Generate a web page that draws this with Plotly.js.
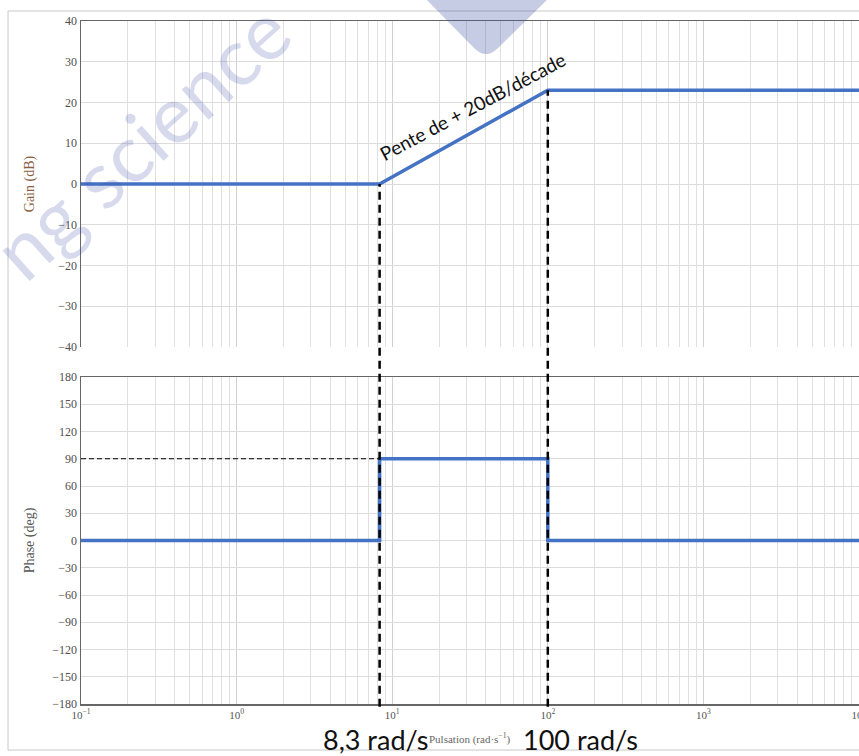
<!DOCTYPE html>
<html>
<head>
<meta charset="utf-8">
<script src="https://cdn.plot.ly/plotly-3.0.1.min.js"></script>
<style>html,body{margin:0;padding:0;background:#fff;}#chart{width:859px;height:756px;}</style>
</head>
<body>
<div id="chart"></div>
<script>
// ---- data ----
const gainOmega = [0.1, 8.3, 100, 10000];
const gainDb = [0, 0, 23, 23];
const phaseOmega = [0.1, 8.3, 8.3, 100, 100, 10000];
const phaseDeg = [0, 0, 90, 90, 0, 0];
const cornerFreqs = [8.3, 100];
const cornerGains = [0, 23];
const cornerLabels = ['8,3 rad/s', '100 rad/s'];
const phaseLevel = 90;
const xTickVals = [0.1, 1, 10, 100, 1000, 10000];
const xTickText = ['10<sup>−1</sup>', '10<sup>0</sup>', '10<sup>1</sup>', '10<sup>2</sup>', '10<sup>3</sup>', '10<sup>4</sup>'];
const gainTicks = [-40, -30, -20, -10, 0, 10, 20, 30, 40];
const phaseTicks = [-180, -150, -120, -90, -60, -30, 0, 30, 60, 90, 120, 150, 180];
const slopeText = 'Pente de + 20dB/décade';
const watermarkText = 'ng science';

// ---- layout helpers ----
const W = 859, H = 756;
const M = {l: 81, r: 0, t: 21, b: 52};
const PW = W - M.l - M.r, PH = H - M.t - M.b;
const px2x = p => (p - M.l) / PW;
const px2y = p => (H - M.b - p) / PH;
const topDomain = [px2y(347), 1];
const botDomain = [0, px2y(377)];
const gainRange = [-40, 40];
const gainToPaper = g => topDomain[0] + (g - gainRange[0]) / (gainRange[1] - gainRange[0]) * (topDomain[1] - topDomain[0]);

const minorVals = [];
for (let k = -1; k <= 3; k++) for (let m = 2; m <= 9; m++) minorVals.push(m * Math.pow(10, k));

const blue = '#4472C4';
const tickFont = {family: 'Liberation Serif, DejaVu Serif, serif', size: 12, color: '#505050'};

const traces = [
  {x: gainOmega, y: gainDb, xaxis: 'x', yaxis: 'y', mode: 'lines', line: {color: blue, width: 3.5}, hoverinfo: 'skip'},
  {x: phaseOmega, y: phaseDeg, xaxis: 'x2', yaxis: 'y2', mode: 'lines', line: {color: blue, width: 3.5}, hoverinfo: 'skip'}
];

const xCommon = {
  type: 'log', range: [-1, 4], tickmode: 'array', tickvals: xTickVals, ticktext: xTickText,
  showgrid: true, gridcolor: '#d2d2d2', gridwidth: 1, zeroline: false,
  minor: {tickmode: 'array', tickvals: minorVals, showgrid: true, gridcolor: '#e0e0e0', gridwidth: 1, ticks: ''},
  showline: true, linecolor: '#666', linewidth: 1.5, ticks: '', ticklabeloverflow: 'allow',
  tickfont: {family: 'Liberation Serif, serif', size: 11, color: '#555'}
};

const shapes = [];
cornerFreqs.forEach((f, i) => {
  shapes.push({type: 'line', xref: 'x2', yref: 'paper', x0: f, x1: f, y0: -0.004, y1: gainToPaper(cornerGains[i]),
    line: {color: '#000', width: 2.5, dash: '8px,5px'}, layer: 'above'});
});
shapes.push({type: 'line', xref: 'x2', yref: 'y2', x0: xTickVals[0], x1: cornerFreqs[0], y0: phaseLevel, y1: phaseLevel,
  line: {color: '#000', width: 1.2, dash: '5px,3px'}, layer: 'above'});
// outer frame
shapes.push({type: 'rect', xref: 'paper', yref: 'paper', x0: px2x(8), x1: px2x(870), y0: px2y(750), y1: px2y(11),
  line: {color: '#c8c8c8', width: 1}, fillcolor: 'rgba(0,0,0,0)', layer: 'below'});
// watermark logo shape
const pts = [[422, -5], [474, 48], [486, 60], [498, 48], [552, -5]];
const P = p => px2x(p[0]) + ' ' + px2y(p[1]);
shapes.push({type: 'path', xref: 'paper', yref: 'paper',
  path: 'M ' + P(pts[0]) + ' L ' + P(pts[1]) + ' Q ' + P(pts[2]) + ' ' + P(pts[3]) + ' L ' + P(pts[4]) + ' Z',
  fillcolor: 'rgba(70,85,170,0.30)', line: {width: 0}, layer: 'above'});

const annotations = [
  {xref: 'paper', yref: 'paper', x: px2x(140), y: px2y(140), text: watermarkText, showarrow: false, textangle: -42,
    font: {family: 'Lato, sans-serif', size: 80, weight: 400, color: 'rgba(70,85,170,0.22)'}, xanchor: 'center', yanchor: 'middle'},
  {xref: 'paper', yref: 'paper', x: px2x(472), y: px2y(106), text: slopeText, showarrow: false, textangle: -28,
    font: {family: 'Lato, sans-serif', size: 19, color: '#111'}, xanchor: 'center', yanchor: 'middle'},
  {xref: 'paper', yref: 'paper', x: px2x(470), y: px2y(738), text: 'Pulsation (rad·s<sup>−1</sup>)', showarrow: false,
    font: {family: 'Liberation Serif, serif', size: 11, color: '#666'}, xanchor: 'center', yanchor: 'middle'},
  {xref: 'paper', yref: 'paper', x: px2x(375), y: px2y(739), text: cornerLabels[0], showarrow: false,
    font: {family: 'Lato, sans-serif', size: 27, color: '#111'}, xanchor: 'center', yanchor: 'middle'},
  {xref: 'paper', yref: 'paper', x: px2x(580), y: px2y(739), text: cornerLabels[1], showarrow: false,
    font: {family: 'Lato, sans-serif', size: 27, color: '#111'}, xanchor: 'center', yanchor: 'middle'}
];

const layout = {
  width: W, height: H, margin: M, showlegend: false,
  paper_bgcolor: '#fff', plot_bgcolor: '#fff',
  xaxis: Object.assign({}, xCommon, {domain: [0, 1], anchor: 'y', side: 'top', showticklabels: false, matches: 'x2'}),
  xaxis2: Object.assign({}, xCommon, {domain: [0, 1], anchor: 'y2', side: 'bottom', mirror: true}),
  yaxis: {domain: topDomain, anchor: 'x', range: gainRange, tickmode: 'array', tickvals: gainTicks,
    showgrid: true, gridcolor: '#dcdcdc', zeroline: false, showline: true, linecolor: '#666', linewidth: 1.5,
    ticks: '', tickfont: tickFont,
    title: {text: 'Gain (dB)', font: {family: 'Liberation Serif, serif', size: 14, color: '#8a5f45'}, standoff: 20}},
  yaxis2: {domain: botDomain, anchor: 'x2', range: [-180, 180], tickmode: 'array', tickvals: phaseTicks,
    showgrid: true, gridcolor: '#dcdcdc', zeroline: false, showline: true, linecolor: '#666', linewidth: 1.5,
    ticks: '', tickfont: tickFont,
    title: {text: 'Phase (deg)', font: {family: 'Liberation Serif, serif', size: 14, color: '#555'}, standoff: 14}},
  shapes: shapes,
  annotations: annotations
};

Plotly.newPlot('chart', traces, layout, {displayModeBar: false, staticPlot: true});
</script>
</body>
</html>
